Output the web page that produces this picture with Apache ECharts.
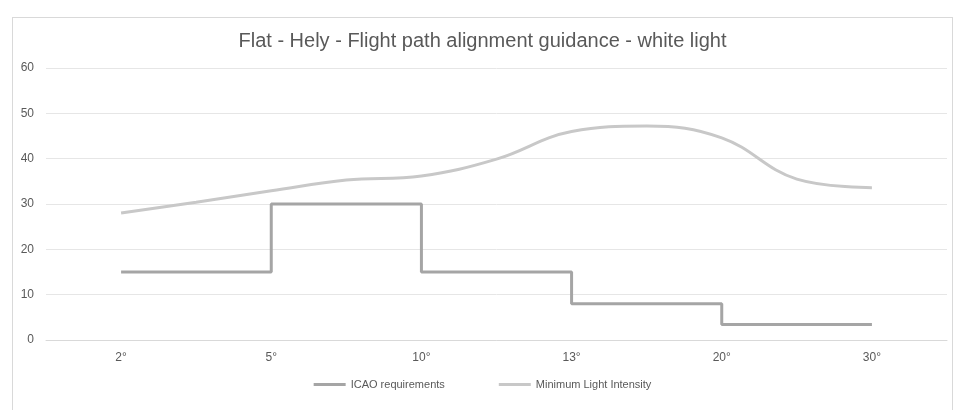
<!DOCTYPE html>
<html><head><meta charset="utf-8">
<script src="https://cdn.jsdelivr.net/npm/echarts@6/dist/echarts.min.js"></script>
<style>
html,body{margin:0;padding:0;background:#fff;}
#frame{position:absolute;left:12px;top:17px;width:941px;height:410px;border:1px solid #d9d9d9;box-sizing:border-box;}
#c{position:absolute;left:0;top:0;width:965px;height:410px;}
</style></head>
<body><div id="frame"></div><div id="c"></div>
<script>
// x categories (placed at odd positions 1,3,5,... on a 0..12 axis)
var categories = ['2°','5°','10°','13°','20°','30°'];
// ICAO requirement level starting at each category (step line)
var icaoValues = [15, 30, 15, 8, 3.4, 3.4];
// Minimum Light Intensity read at each category and halfway between categories
var minLightValues = [28.0, 30.4, 32.9, 35.3, 36.2, 39.9, 46.0, 47.2, 44.6, 35.5, 33.6];
var yTicks = [0,10,20,30,40,50,60];

var icaoData = icaoValues.map(function(v,i){return [2*i+1, v];});
var minLightData = minLightValues.map(function(v,i){return [i+1, v];});

var FONT = 'Liberation Sans, Arial, sans-serif';
var chart = echarts.init(document.getElementById('c'));
chart.setOption({
  animation:false,
  title:{text:'Flat - Hely - Flight path alignment guidance - white light',left:'center',top:26,
    textStyle:{fontFamily:FONT,fontSize:20,fontWeight:'normal',color:'#595959'}},
  legend:{bottom:15,left:'center',itemWidth:32,itemHeight:3,itemGap:54,icon:'rect',
    textStyle:{fontFamily:FONT,fontSize:11,color:'#595959'},
    data:['ICAO requirements','Minimum Light Intensity']},
  grid:{left:46,right:18,top:68,bottom:70},
  xAxis:{type:'value',min:0,max:12,interval:1,
    axisLine:{show:true,onZero:false,lineStyle:{color:'#d9d9d9'}},axisTick:{show:false},
    splitLine:{show:false},
    axisLabel:{color:'#595959',fontFamily:FONT,fontSize:12,margin:12,showMinLabel:true,showMaxLabel:true,
      formatter:function(v){return (v%2===1)?categories[(v-1)/2]:'';}}},
  yAxis:{type:'value',min:yTicks[0],max:yTicks[yTicks.length-1],interval:10,
    axisLine:{show:false},axisTick:{show:false},
    splitLine:{lineStyle:{color:'#e6e6e6'}},
    axisLabel:{color:'#595959',fontFamily:FONT,fontSize:12,margin:12}},
  series:[
    {name:'ICAO requirements',type:'line',step:'end',data:icaoData,showSymbol:false,
      lineStyle:{color:'#a5a5a5',width:3},itemStyle:{color:'#a5a5a5'}},
    {name:'Minimum Light Intensity',type:'line',smooth:0.4,data:minLightData,showSymbol:false,
      lineStyle:{color:'#c8c8c8',width:3},itemStyle:{color:'#c8c8c8'}}
  ]
});
</script></body></html>
